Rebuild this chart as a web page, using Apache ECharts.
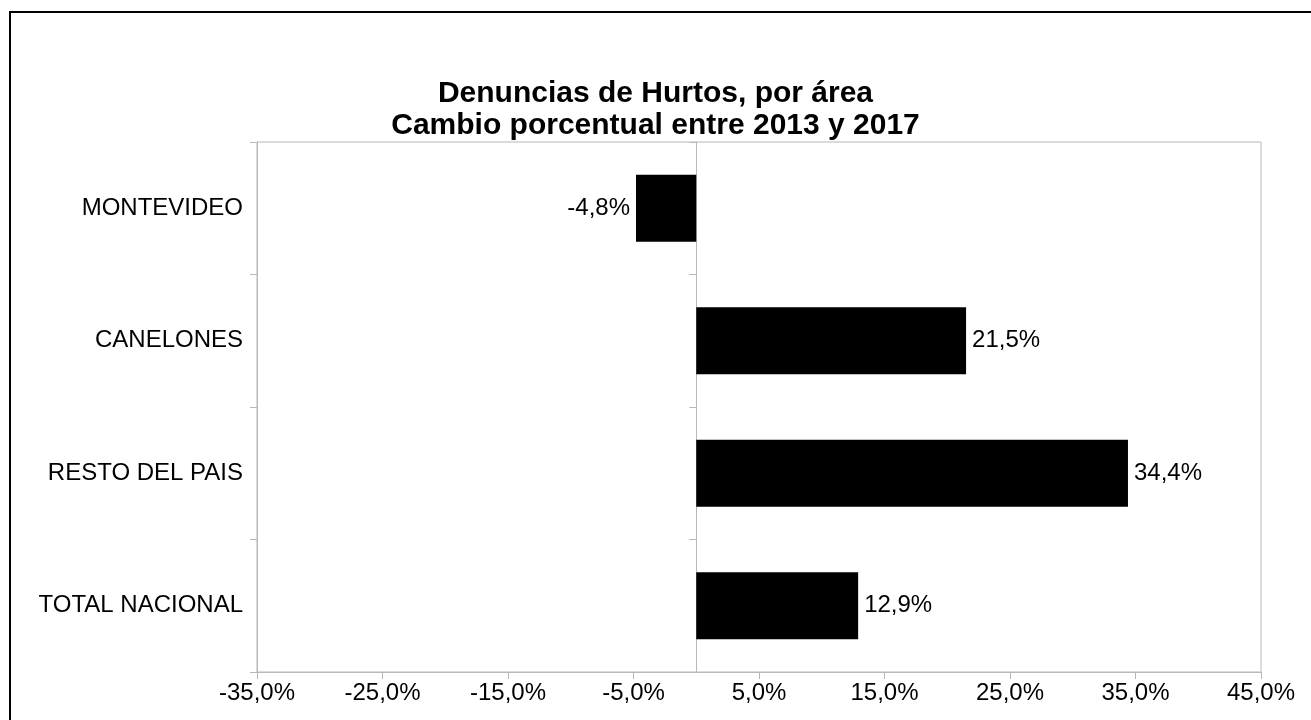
<!DOCTYPE html>
<html>
<head>
<meta charset="utf-8">
<script src="https://cdn.jsdelivr.net/npm/echarts@6/dist/echarts.min.js"></script>
<style>
  html, body { margin: 0; padding: 0; background: #fff; }
  #chart { width: 1311px; height: 720px; }
</style>
</head>
<body>
<div id="chart"></div>
<script>
    // datos del gráfico
    const titleLines = ['Denuncias de Hurtos, por área', 'Cambio porcentual entre 2013 y 2017'];
    const categories = ['MONTEVIDEO', 'CANELONES', 'RESTO DEL PAIS', 'TOTAL NACIONAL'];
    const values = [-4.8, 21.5, 34.4, 12.9];
    const axisMin = -35;
    const axisMax = 45;
    const axisStep = 10;

    const font = '"Liberation Sans", Arial, sans-serif';
    const gray = '#b8b8b8';

    // formato con coma decimal
    const fmt = v => `${Number(v).toFixed(1).replace('.', ',')}%`;

    const barData = values.map(v => ({
        value: v,
        label: { position: v < 0 ? 'left' : 'right' }
    }));

    const chart = echarts.init(document.getElementById('chart'));
    const option = {
        backgroundColor: '#fff',
        animation: false,
        textStyle: { fontFamily: font },
        title: {
            text: titleLines.join('\n'),
            left: 'center',
            top: 73,
            textStyle: {
                fontFamily: font,
                fontSize: 30,
                fontWeight: 'bold',
                lineHeight: 32,
                color: '#000'
            }
        },
        grid: {
            left: 257,
            right: 50,
            top: 142,
            bottom: 48,
            show: true,
            borderColor: gray,
            borderWidth: 1,
            outerBoundsMode: 'none'
        },
        xAxis: {
            type: 'value',
            min: axisMin,
            max: axisMax,
            interval: axisStep,
            splitLine: { show: false },
            axisLine: { show: true, onZero: false, lineStyle: { color: gray } },
            axisTick: { show: true, length: 7, lineStyle: { color: gray } },
            axisLabel: {
                color: '#000',
                fontSize: 24,
                fontFamily: font,
                margin: 9,
                formatter: fmt
            }
        },
        yAxis: [
            {
                type: 'category',
                data: categories,
                inverse: true,
                position: 'left',
                axisLine: { show: true, onZero: false, lineStyle: { color: gray } },
                axisTick: { show: true, length: 7, lineStyle: { color: gray } },
                axisLabel: {
                    color: '#000',
                    fontSize: 24,
                    fontFamily: font,
                    margin: 14
                },
                splitLine: { show: false }
            },
            {
                // eje en cero
                type: 'category',
                data: categories,
                inverse: true,
                position: 'right',
                axisLine: { show: true, onZero: true, lineStyle: { color: gray } },
                axisTick: { show: true, inside: true, length: 7, lineStyle: { color: gray } },
                axisLabel: { show: false },
                splitLine: { show: false }
            }
        ],
        series: [
            {
                type: 'bar',
                yAxisIndex: 0,
                data: barData,
                barWidth: 67,
                itemStyle: { color: '#000' },
                label: {
                    show: true,
                    distance: 6,
                    color: '#000',
                    fontSize: 24,
                    fontFamily: font,
                    formatter: p => fmt(p.value)
                }
            }
        ],
        graphic: [
            {
                type: 'rect',
                shape: { x: 10, y: 12, width: 1400, height: 800 },
                style: { fill: 'none', stroke: '#000', lineWidth: 2 },
                silent: true
            }
        ]
    };
    chart.setOption(option);
</script>
</body>
</html>
